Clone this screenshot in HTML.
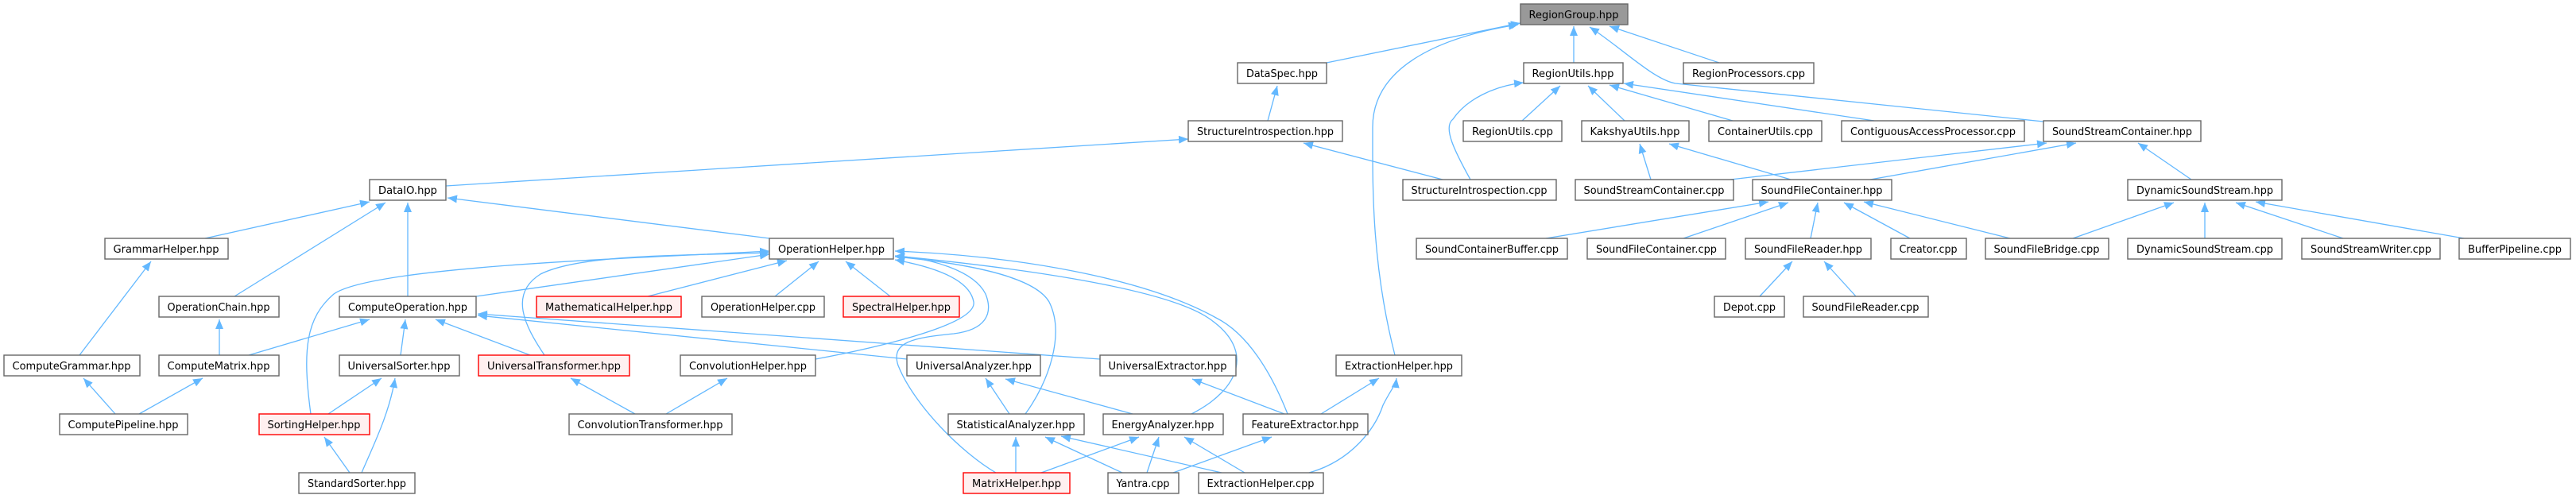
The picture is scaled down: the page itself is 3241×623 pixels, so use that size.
<!DOCTYPE html>
<html><head><meta charset="utf-8"><style>
html,body{margin:0;padding:0;background:#fff;}
svg{display:block;}
text{font-family:"DejaVu Sans","Liberation Sans",sans-serif;font-size:13px;fill:#000;text-anchor:middle;}
.n{fill:#fff;stroke:#666;stroke-width:1.4;}
.r{fill:#fff0f0;stroke:#ff0000;stroke-width:1.4;}
.g{fill:#999;stroke:#666;stroke-width:1.4;}
.e{fill:none;stroke:#63b8ff;stroke-width:1.3;marker-end:url(#a);}
</style></head><body>
<svg width="3241" height="623" viewBox="0 0 3241 623" xmlns="http://www.w3.org/2000/svg">
<defs><marker id="a" markerUnits="userSpaceOnUse" markerWidth="13" markerHeight="11" refX="12" refY="5" orient="auto"><path d="M0,0 L12,5 L0,10 z" fill="#63b8ff"/></marker></defs>
<g>
<!-- RegionGroup -->
<path class="e" d="M1669,79 L1913,29"/>
<path class="e" d="M1980,79 L1980,33"/>
<path class="e" d="M2163,79 L2025,33"/>
<path class="e" d="M1755,447 C1725,330 1727,230 1727,160 C1727,80 1820,45 1910,31"/>
<path class="e" d="M2571,153 L2108,105 C2080,100 2040,60 2000,34"/>
<!-- RegionUtils -->
<path class="e" d="M1850,226 C1830,190 1815,160 1828,150 C1845,125 1880,108 1917,104"/>
<path class="e" d="M1915,152 L1963,108"/>
<path class="e" d="M2044,152 L1998,108"/>
<path class="e" d="M2180,152 L2025,107"/>
<path class="e" d="M2358,152 L2043,105"/>
<!-- DataSpec / StructureIntrospection -->
<path class="e" d="M1595,152 L1607,108"/>
<path class="e" d="M561,234 L1495,175"/>
<path class="e" d="M1815,226 L1640,180"/>
<!-- KakshyaUtils -->
<path class="e" d="M2077,226 L2063,181"/>
<path class="e" d="M2253,226 L2100,181"/>
<!-- SoundStreamContainer.hpp -->
<path class="e" d="M2177,226 L2575,180"/>
<path class="e" d="M2353,226 L2612,180"/>
<path class="e" d="M2757,226 L2690,180"/>
<!-- SoundFileContainer.hpp -->
<path class="e" d="M1945,300 L2225,254"/>
<path class="e" d="M2118,300 L2250,255"/>
<path class="e" d="M2278,300 L2287,255"/>
<path class="e" d="M2403,300 L2320,255"/>
<path class="e" d="M2529,300 L2345,254"/>
<!-- DynamicSoundStream.hpp -->
<path class="e" d="M2608,300 L2735,255"/>
<path class="e" d="M2774,300 L2774,255"/>
<path class="e" d="M2948,300 L2813,255"/>
<path class="e" d="M3100,300 L2838,254"/>
<!-- SoundFileReader.hpp -->
<path class="e" d="M2214,373 L2255,329"/>
<path class="e" d="M2335,373 L2295,329"/>
<!-- DataIO -->
<path class="e" d="M258,300 L465,254"/>
<path class="e" d="M295,373 L485,255"/>
<path class="e" d="M513,373 L513,255"/>
<path class="e" d="M968,300 L563,249"/>
<path class="e" d="M100,447 L190,329"/>
<path class="e" d="M276,447 L276,402"/>
<path class="e" d="M145,521 L105,476"/>
<path class="e" d="M175,521 L255,476"/>
<!-- ComputeOperation -->
<path class="e" d="M313,447 L465,402"/>
<path class="e" d="M504,447 L510,402"/>
<path class="e" d="M667,447 L548,402"/>
<path class="e" d="M1141,452 L601,397"/>
<path class="e" d="M1384,452 L601,395"/>
<path class="e" d="M599,373 L968,320"/>
<!-- UniversalSorter / SortingHelper -->
<path class="e" d="M413,521 L480,476"/>
<path class="e" d="M455,595 C470,560 490,520 497,476"/>
<path class="e" d="M440,595 L408,550"/>
<path class="e" d="M391,521 C380,440 385,400 420,370 C470,335 800,325 968,316"/>
<!-- UniversalTransformer -->
<path class="e" d="M799,521 L718,476"/>
<path class="e" d="M685,447 C660,410 640,370 680,345 C730,320 850,322 968,318"/>
<!-- OperationHelper -->
<path class="e" d="M815,373 L990,328"/>
<path class="e" d="M975,373 L1030,329"/>
<path class="e" d="M1120,373 L1064,329"/>
<path class="e" d="M1026,452 C1090,440 1230,410 1225,380 C1220,350 1170,335 1126,327"/>
<path class="e" d="M1253,595 C1210,570 1150,510 1130,460 C1120,430 1150,425 1200,420 C1240,415 1250,395 1240,370 C1225,340 1170,325 1126,322"/>
<path class="e" d="M1290,521 C1320,480 1340,420 1320,380 C1300,345 1200,330 1126,323"/>
<path class="e" d="M1499,521 C1560,490 1580,440 1520,400 C1460,360 1260,335 1126,322"/>
<path class="e" d="M1620,521 C1600,470 1570,420 1530,400 C1440,350 1280,322 1126,316"/>
<!-- ConvolutionHelper, Analyzers -->
<path class="e" d="M838,521 L915,476"/>
<path class="e" d="M1270,521 L1240,476"/>
<path class="e" d="M1425,521 L1265,477"/>
<path class="e" d="M1616,521 L1500,477"/>
<!-- ExtractionHelper.hpp -->
<path class="e" d="M1662,521 L1735,476"/>
<path class="e" d="M1647,595 C1700,580 1730,540 1740,510 C1750,490 1756,485 1757,476"/>
<!-- StatisticalAnalyzer / EnergyAnalyzer / FeatureExtractor -->
<path class="e" d="M1278,595 L1278,550"/>
<path class="e" d="M1412,595 L1315,550"/>
<path class="e" d="M1537,595 L1335,549"/>
<path class="e" d="M1310,595 L1433,550"/>
<path class="e" d="M1443,595 L1458,550"/>
<path class="e" d="M1566,595 L1490,550"/>
<path class="e" d="M1476,595 L1600,550"/>
</g>
<g>
<rect class="g" x="1913" y="5" width="135" height="26"/><text x="1980" y="23" textLength="113" lengthAdjust="spacingAndGlyphs">RegionGroup.hpp</text>
<rect class="n" x="1557" y="79" width="112" height="26"/><text x="1613" y="97" textLength="90" lengthAdjust="spacingAndGlyphs">DataSpec.hpp</text>
<rect class="n" x="1917" y="79" width="125" height="26"/><text x="1979" y="97" textLength="103" lengthAdjust="spacingAndGlyphs">RegionUtils.hpp</text>
<rect class="n" x="2118" y="79" width="164" height="26"/><text x="2200" y="97" textLength="142" lengthAdjust="spacingAndGlyphs">RegionProcessors.cpp</text>
<rect class="n" x="1495" y="152" width="194" height="26"/><text x="1592" y="170" textLength="172" lengthAdjust="spacingAndGlyphs">StructureIntrospection.hpp</text>
<rect class="n" x="1841" y="152" width="124" height="26"/><text x="1903" y="170" textLength="102" lengthAdjust="spacingAndGlyphs">RegionUtils.cpp</text>
<rect class="n" x="1990" y="152" width="135" height="26"/><text x="2057" y="170" textLength="113" lengthAdjust="spacingAndGlyphs">KakshyaUtils.hpp</text>
<rect class="n" x="2150" y="152" width="142" height="26"/><text x="2221" y="170" textLength="120" lengthAdjust="spacingAndGlyphs">ContainerUtils.cpp</text>
<rect class="n" x="2317" y="152" width="230" height="26"/><text x="2432" y="170" textLength="208" lengthAdjust="spacingAndGlyphs">ContiguousAccessProcessor.cpp</text>
<rect class="n" x="2571" y="152" width="198" height="26"/><text x="2670" y="170" textLength="176" lengthAdjust="spacingAndGlyphs">SoundStreamContainer.hpp</text>
<rect class="n" x="465" y="226" width="96" height="26"/><text x="513" y="244" textLength="74" lengthAdjust="spacingAndGlyphs">DataIO.hpp</text>
<rect class="n" x="1765" y="226" width="193" height="26"/><text x="1861" y="244" textLength="171" lengthAdjust="spacingAndGlyphs">StructureIntrospection.cpp</text>
<rect class="n" x="1982" y="226" width="199" height="26"/><text x="2081" y="244" textLength="177" lengthAdjust="spacingAndGlyphs">SoundStreamContainer.cpp</text>
<rect class="n" x="2205" y="226" width="175" height="26"/><text x="2292" y="244" textLength="153" lengthAdjust="spacingAndGlyphs">SoundFileContainer.hpp</text>
<rect class="n" x="2677" y="226" width="194" height="26"/><text x="2774" y="244" textLength="172" lengthAdjust="spacingAndGlyphs">DynamicSoundStream.hpp</text>
<rect class="n" x="132" y="300" width="155" height="26"/><text x="209" y="318" textLength="133" lengthAdjust="spacingAndGlyphs">GrammarHelper.hpp</text>
<rect class="n" x="968" y="300" width="156" height="26"/><text x="1046" y="318" textLength="134" lengthAdjust="spacingAndGlyphs">OperationHelper.hpp</text>
<rect class="n" x="1782" y="300" width="190" height="26"/><text x="1877" y="318" textLength="168" lengthAdjust="spacingAndGlyphs">SoundContainerBuffer.cpp</text>
<rect class="n" x="1997" y="300" width="174" height="26"/><text x="2084" y="318" textLength="152" lengthAdjust="spacingAndGlyphs">SoundFileContainer.cpp</text>
<rect class="n" x="2196" y="300" width="158" height="26"/><text x="2275" y="318" textLength="136" lengthAdjust="spacingAndGlyphs">SoundFileReader.hpp</text>
<rect class="n" x="2379" y="300" width="95" height="26"/><text x="2426" y="318" textLength="73" lengthAdjust="spacingAndGlyphs">Creator.cpp</text>
<rect class="n" x="2498" y="300" width="155" height="26"/><text x="2575" y="318" textLength="133" lengthAdjust="spacingAndGlyphs">SoundFileBridge.cpp</text>
<rect class="n" x="2677" y="300" width="194" height="26"/><text x="2774" y="318" textLength="172" lengthAdjust="spacingAndGlyphs">DynamicSoundStream.cpp</text>
<rect class="n" x="2896" y="300" width="174" height="26"/><text x="2983" y="318" textLength="152" lengthAdjust="spacingAndGlyphs">SoundStreamWriter.cpp</text>
<rect class="n" x="3094" y="300" width="140" height="26"/><text x="3164" y="318" textLength="118" lengthAdjust="spacingAndGlyphs">BufferPipeline.cpp</text>
<rect class="n" x="200" y="373" width="151" height="26"/><text x="275" y="391" textLength="129" lengthAdjust="spacingAndGlyphs">OperationChain.hpp</text>
<rect class="n" x="427" y="373" width="172" height="26"/><text x="513" y="391" textLength="150" lengthAdjust="spacingAndGlyphs">ComputeOperation.hpp</text>
<rect class="r" x="675" y="373" width="182" height="26"/><text x="766" y="391" textLength="160" lengthAdjust="spacingAndGlyphs">MathematicalHelper.hpp</text>
<rect class="n" x="883" y="373" width="154" height="26"/><text x="960" y="391" textLength="132" lengthAdjust="spacingAndGlyphs">OperationHelper.cpp</text>
<rect class="r" x="1061" y="373" width="146" height="26"/><text x="1134" y="391" textLength="124" lengthAdjust="spacingAndGlyphs">SpectralHelper.hpp</text>
<rect class="n" x="2157" y="373" width="88" height="26"/><text x="2201" y="391" textLength="66" lengthAdjust="spacingAndGlyphs">Depot.cpp</text>
<rect class="n" x="2269" y="373" width="157" height="26"/><text x="2347" y="391" textLength="135" lengthAdjust="spacingAndGlyphs">SoundFileReader.cpp</text>
<rect class="n" x="5" y="447" width="171" height="26"/><text x="90" y="465" textLength="149" lengthAdjust="spacingAndGlyphs">ComputeGrammar.hpp</text>
<rect class="n" x="200" y="447" width="151" height="26"/><text x="275" y="465" textLength="129" lengthAdjust="spacingAndGlyphs">ComputeMatrix.hpp</text>
<rect class="n" x="427" y="447" width="151" height="26"/><text x="502" y="465" textLength="129" lengthAdjust="spacingAndGlyphs">UniversalSorter.hpp</text>
<rect class="r" x="602" y="447" width="190" height="26"/><text x="697" y="465" textLength="168" lengthAdjust="spacingAndGlyphs">UniversalTransformer.hpp</text>
<rect class="n" x="856" y="447" width="170" height="26"/><text x="941" y="465" textLength="148" lengthAdjust="spacingAndGlyphs">ConvolutionHelper.hpp</text>
<rect class="n" x="1141" y="447" width="168" height="26"/><text x="1225" y="465" textLength="146" lengthAdjust="spacingAndGlyphs">UniversalAnalyzer.hpp</text>
<rect class="n" x="1384" y="447" width="171" height="26"/><text x="1469" y="465" textLength="149" lengthAdjust="spacingAndGlyphs">UniversalExtractor.hpp</text>
<rect class="n" x="1681" y="447" width="158" height="26"/><text x="1760" y="465" textLength="136" lengthAdjust="spacingAndGlyphs">ExtractionHelper.hpp</text>
<rect class="n" x="75" y="521" width="161" height="26"/><text x="155" y="539" textLength="139" lengthAdjust="spacingAndGlyphs">ComputePipeline.hpp</text>
<rect class="r" x="326" y="521" width="139" height="26"/><text x="395" y="539" textLength="117" lengthAdjust="spacingAndGlyphs">SortingHelper.hpp</text>
<rect class="n" x="716" y="521" width="205" height="26"/><text x="818" y="539" textLength="183" lengthAdjust="spacingAndGlyphs">ConvolutionTransformer.hpp</text>
<rect class="n" x="1193" y="521" width="171" height="26"/><text x="1278" y="539" textLength="149" lengthAdjust="spacingAndGlyphs">StatisticalAnalyzer.hpp</text>
<rect class="n" x="1388" y="521" width="151" height="26"/><text x="1463" y="539" textLength="129" lengthAdjust="spacingAndGlyphs">EnergyAnalyzer.hpp</text>
<rect class="n" x="1564" y="521" width="157" height="26"/><text x="1642" y="539" textLength="135" lengthAdjust="spacingAndGlyphs">FeatureExtractor.hpp</text>
<rect class="n" x="376" y="595" width="146" height="26"/><text x="449" y="613" textLength="124" lengthAdjust="spacingAndGlyphs">StandardSorter.hpp</text>
<rect class="r" x="1212" y="595" width="134" height="26"/><text x="1279" y="613" textLength="112" lengthAdjust="spacingAndGlyphs">MatrixHelper.hpp</text>
<rect class="n" x="1394" y="595" width="89" height="26"/><text x="1438" y="613" textLength="67" lengthAdjust="spacingAndGlyphs">Yantra.cpp</text>
<rect class="n" x="1508" y="595" width="157" height="26"/><text x="1586" y="613" textLength="135" lengthAdjust="spacingAndGlyphs">ExtractionHelper.cpp</text>
</g>
</svg>
</body></html>
